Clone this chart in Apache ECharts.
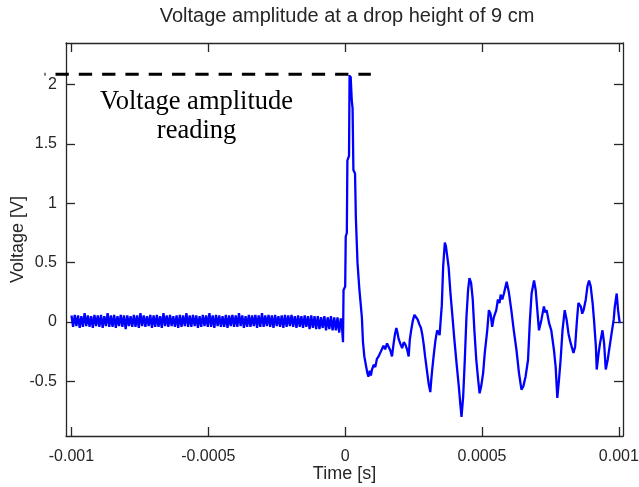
<!DOCTYPE html>
<html>
<head>
<meta charset="utf-8">
<script src="https://cdn.jsdelivr.net/npm/echarts@6/dist/echarts.min.js"></script>
<style>
html,body{margin:0;padding:0;background:#fff;}
#chart{width:639px;height:487px;}
</style>
</head>
<body>
<div id="chart"></div>
<script>
// ---------------- data (time in microseconds, voltage in V) ----------------
const noiseTimeUs = [-1000,-994,-988,-982,-976,-970,-964,-958,-952,-946,-940,-934,-928,-922,-916,-910,-904,-898,-892,-886,-880,-874,-868,-862,-856,-850,-844,-838,-832,-826,-820,-814,-808,-802,-796,-790,-784,-778,-772,-766,-760,-754,-748,-742,-736,-730,-724,-718,-712,-706,-700,-694,-688,-682,-676,-670,-664,-658,-652,-646,-640,-634,-628,-622,-616,-610,-604,-598,-592,-586,-580,-574,-568,-562,-556,-550,-544,-538,-532,-526,-520,-514,-508,-502,-496,-490,-484,-478,-472,-466,-460,-454,-448,-442,-436,-430,-424,-418,-412,-406,-400,-394,-388,-382,-376,-370,-364,-358,-352,-346,-340,-334,-328,-322,-316,-310,-304,-298,-292,-286,-280,-274,-268,-262,-256,-250,-244,-238,-232,-226,-220,-214,-208,-202,-196,-190,-184,-178,-172,-166,-160,-154,-148,-142,-136,-130,-124,-118,-112,-106,-100,-94,-88,-82,-76,-70,-64,-58,-52,-46,-40,-34,-28,-22,-16];
const noiseVoltage = [
0.055,-0.04,0.06,-0.035,0.055,-0.05,0.05,-0.04,0.075,-0.035,
0.055,-0.04,0.05,-0.05,0.06,-0.035,0.055,-0.04,0.06,-0.05,
0.05,-0.035,0.075,-0.04,0.055,-0.04,0.06,-0.05,0.05,-0.035,
0.06,-0.04,0.055,-0.06,0.055,-0.035,0.05,-0.04,0.06,-0.04,
0.055,-0.05,0.075,-0.035,0.055,-0.04,0.05,-0.035,0.06,-0.05,
0.055,-0.04,0.06,-0.04,0.05,-0.05,0.075,-0.035,0.055,-0.04,
0.06,-0.035,0.05,-0.04,0.055,-0.05,0.06,-0.04,0.055,-0.035,
0.075,-0.04,0.055,-0.04,0.06,-0.035,0.055,-0.05,0.05,-0.04,
0.06,-0.035,0.055,-0.04,0.075,-0.04,0.055,-0.05,0.06,-0.035,
0.055,-0.04,0.05,-0.04,0.06,-0.05,0.055,-0.035,0.06,-0.04,
0.055,-0.04,0.075,-0.035,0.055,-0.05,0.05,-0.04,0.06,-0.04,
0.055,-0.035,0.06,-0.05,0.055,-0.04,0.075,-0.04,0.055,-0.035,
0.06,-0.04,0.055,-0.05,0.06,-0.035,0.05,-0.04,0.055,-0.05,
0.06,-0.04,0.055,-0.035,0.06,-0.04,0.05,-0.05,0.055,-0.04,
0.05,-0.05,0.055,-0.04,0.05,-0.06,0.055,-0.05,0.05,-0.06,
0.05,-0.06,0.04,-0.05,0.05,-0.07,0.04,-0.06,0.05,-0.07,
0.04,-0.07,0.04,-0.09,0.03];
const responseTimeUs = [-12,-8,-6,0,2,6,8,14,16,18,20,24,27,30,36,39,45,52,61,65,70,77,81,85,90,94,98,104,110,116,122,128,134,140,146,153,159,165,171,177,182,187,191,195,201,208,214,220,226,232,236,241,247,253,259,265,271,277,282,287,292,297,305,311,314,318,323,330,336,341,345,349,353,358,364,368,372,378,385,391,399,407,415,421,425,431,437,443,449,454,460,466,472,479,486,491,497,504,510,519,525,531,537,543,552,558,564,568,574,580,590,598,607,616,626,635,644,651,659,668,675,681,690,696,702,708,717,726,731,736,745,753,763,769,775,781,787,794,802,809,816,824,834,840,846,852,861,866,871,879,885,891,897,904,909,916,919,926,931,940,946,952,959,964,973,981,985,992,997,1003];
const responseVoltage = [-0.03,-0.17,0.27,0.30,0.72,0.75,1.36,1.40,2.08,2.04,2.07,1.87,1.80,1.28,1.25,0.88,0.50,0.27,0.04,-0.17,-0.29,-0.38,-0.43,-0.46,-0.41,-0.45,-0.40,-0.36,-0.38,-0.31,-0.29,-0.26,-0.25,-0.20,-0.23,-0.18,-0.21,-0.24,-0.29,-0.18,-0.10,-0.05,-0.09,-0.14,-0.18,-0.22,-0.17,-0.19,-0.23,-0.29,-0.15,-0.07,0.01,0.06,0.04,0.02,-0.02,-0.05,-0.11,-0.19,-0.29,-0.38,-0.52,-0.59,-0.50,-0.40,-0.29,-0.15,-0.07,-0.09,-0.11,0.02,0.14,0.47,0.67,0.64,0.63,0.46,0.23,0.07,-0.15,-0.35,-0.54,-0.70,-0.80,-0.63,-0.32,0.04,0.27,0.37,0.33,0.19,-0.07,-0.32,-0.49,-0.60,-0.54,-0.43,-0.26,-0.07,0.10,0.07,-0.04,0.04,0.10,0.19,0.16,0.23,0.19,0.24,0.34,0.25,0.10,-0.07,-0.24,-0.43,-0.57,-0.54,-0.46,-0.32,0.02,0.24,0.35,0.27,0.10,-0.07,0.02,0.13,0.08,0.10,-0.01,-0.07,-0.24,-0.38,-0.64,-0.49,-0.32,-0.07,0.10,0.02,-0.10,-0.18,-0.26,-0.21,-0.01,0.16,0.13,0.07,0.10,0.19,0.30,0.35,0.30,0.16,0.02,-0.21,-0.40,-0.26,-0.18,-0.07,-0.18,-0.40,-0.32,-0.24,-0.10,0.02,0.13,0.24,0.10,-0.01];

const xTickValues = [-0.001, -0.0005, 0, 0.0005, 0.001];
const xTickLabels = ['-0.001', '-0.0005', '0', '0.0005', '0.001'];
const yTickValues = [-0.5, 0, 0.5, 1, 1.5, 2];
const yTickLabels = ['-0.5', '0', '0.5', '1', '1.5', '2'];

const titleText = 'Voltage amplitude at a drop height of 9 cm';
const xName = 'Time [s]';
const yName = 'Voltage [V]';
const annotationLines = ['Voltage amplitude', 'reading'];
const annotationLevel = 2.087;          // V, level of the dashed reading line
const annotationFrom = -0.0010985;      // s
const annotationTo = 0.0000938;         // s
const annotationTextAt = [-0.000543, 1.729]; // [s, V] centre of the note

// ---------------- build ----------------
const allTime = noiseTimeUs.concat(responseTimeUs);
const allVolt = noiseVoltage.concat(responseVoltage);
const seriesData = allTime.map((t, i) => [t * 1e-6, allVolt[i]]);

const axisCol = '#262626';
const font = 'Liberation Sans, Arial, sans-serif';
const xMin = -0.00102, xMax = 0.001015, yMin = -0.96, yMax = 2.35;

function fmt(values, labels) {
  return v => { const i = values.indexOf(v); return i >= 0 ? labels[i] : String(v); };
}
const baseAxisLine = { show: true, onZero: false, lineStyle: { color: axisCol, width: 1.3 } };
const tickStyle = { inside: true, length: 9, lineStyle: { color: axisCol, width: 1.3 } };

const chart = echarts.init(document.getElementById('chart'), null, { renderer: 'canvas' });
chart.setOption({
  animation: false,
  backgroundColor: '#ffffff',
  title: {
    text: titleText, left: 342, top: 1, textAlign: 'center',
    textStyle: { fontFamily: font, fontSize: 20, fontWeight: 'normal', color: '#262626' }
  },
  grid: { left: 66, right: 16, top: 43, bottom: 51, containLabel: false, outerBoundsMode: 'none' },
  xAxis: [{
    type: 'value', min: xMin, max: xMax, position: 'bottom',
    name: xName, nameLocation: 'middle', nameGap: 29, nameMoveOverlap: false,
    nameTextStyle: { fontFamily: font, fontSize: 18, color: '#262626' },
    axisLine: baseAxisLine,
    axisTick: Object.assign({ customValues: xTickValues }, tickStyle),
    axisLabel: { customValues: xTickValues, formatter: fmt(xTickValues, xTickLabels), margin: 13,
      fontFamily: font, fontSize: 16, color: '#262626' },
    splitLine: { show: false }
  }, {
    type: 'value', min: xMin, max: xMax, position: 'top',
    axisLine: baseAxisLine,
    axisTick: Object.assign({ customValues: xTickValues }, tickStyle),
    axisLabel: { show: false }, splitLine: { show: false }
  }],
  yAxis: [{
    type: 'value', min: yMin, max: yMax, position: 'left',
    name: yName, nameLocation: 'middle', nameGap: 39, nameRotate: 90, nameMoveOverlap: false,
    nameTextStyle: { fontFamily: font, fontSize: 18, color: '#262626' },
    axisLine: baseAxisLine,
    axisTick: Object.assign({ customValues: yTickValues }, tickStyle),
    axisLabel: { customValues: yTickValues, formatter: fmt(yTickValues, yTickLabels), margin: 9,
      fontFamily: font, fontSize: 16, color: '#262626' },
    splitLine: { show: false }
  }, {
    type: 'value', min: yMin, max: yMax, position: 'right',
    axisLine: baseAxisLine,
    axisTick: Object.assign({ customValues: yTickValues }, tickStyle),
    axisLabel: { show: false }, splitLine: { show: false }
  }],
  series: [{
    type: 'line', xAxisIndex: 0, yAxisIndex: 0,
    data: seriesData, showSymbol: false, symbol: 'none',
    lineStyle: { color: '#0000ff', width: 2.3 },
    clip: true, z: 2
  }]
});

// annotation placed through the chart's own scales
const p1 = chart.convertToPixel({ xAxisIndex: 0, yAxisIndex: 0 }, [annotationFrom, annotationLevel]);
const p2 = chart.convertToPixel({ xAxisIndex: 0, yAxisIndex: 0 }, [annotationTo, annotationLevel]);
const pt = chart.convertToPixel({ xAxisIndex: 0, yAxisIndex: 0 }, annotationTextAt);
chart.setOption({
  graphic: [{
    type: 'line', z: 100,
    shape: { x1: p1[0], y1: p1[1], x2: p2[0], y2: p2[1] },
    style: { stroke: '#000', lineWidth: 3, lineDash: [13.3, 10], lineDashOffset: 12.3 }
  }, {
    type: 'text', z: 100, x: pt[0], y: pt[1],
    style: { text: annotationLines.join('\n'), align: 'center', verticalAlign: 'middle',
      fontFamily: 'Liberation Serif, Times New Roman, serif', fontSize: 26.5, lineHeight: 29, fill: '#000' }
  }]
});
</script>
</body>
</html>
